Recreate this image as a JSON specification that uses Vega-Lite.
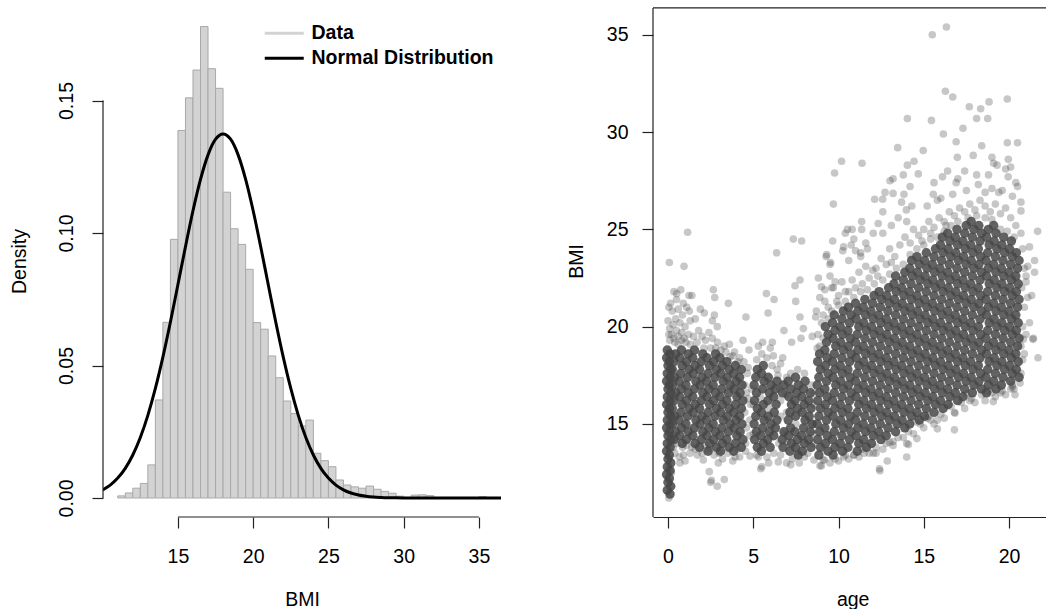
{
"$schema":"https://vega.github.io/schema/vega-lite/v6.json",
"padding":{"left":9,"top":5,"right":0,"bottom":0},
"spacing":65,
"config":{"font":"Liberation Sans","view":{"stroke":null},"axis":{"grid":false,"labelFont":"Liberation Sans","labelFontSize":19.5,"labelColor":"#000","titleFont":"Liberation Sans","titleFontSize":19.5,"titleFontWeight":"normal","titleColor":"#000","tickColor":"#222","tickWidth":1.2,"tickSize":11,"domainColor":"#222","domainWidth":1.2,"labelOverlap":false,"labelFlush":false,"labelBound":false}},
"datasets":{
"hist":[{"lo":11,"hi":11.5,"density":0.0008},{"lo":11.5,"hi":12,"density":0.0019},{"lo":12,"hi":12.5,"density":0.0037},{"lo":12.5,"hi":13,"density":0.0055},{"lo":13,"hi":13.5,"density":0.0125},{"lo":13.5,"hi":14,"density":0.037},{"lo":14,"hi":14.5,"density":0.0663},{"lo":14.5,"hi":15,"density":0.0976},{"lo":15,"hi":15.5,"density":0.1387},{"lo":15.5,"hi":16,"density":0.151},{"lo":16,"hi":16.5,"density":0.1615},{"lo":16.5,"hi":17,"density":0.1779},{"lo":17,"hi":17.5,"density":0.162},{"lo":17.5,"hi":18,"density":0.1546},{"lo":18,"hi":18.5,"density":0.1154},{"lo":18.5,"hi":19,"density":0.1016},{"lo":19,"hi":19.5,"density":0.0957},{"lo":19.5,"hi":20,"density":0.0863},{"lo":20,"hi":20.5,"density":0.0662},{"lo":20.5,"hi":21,"density":0.0637},{"lo":21,"hi":21.5,"density":0.0536},{"lo":21.5,"hi":22,"density":0.0454},{"lo":22,"hi":22.5,"density":0.0366},{"lo":22.5,"hi":23,"density":0.0319},{"lo":23,"hi":23.5,"density":0.0272},{"lo":23.5,"hi":24,"density":0.0294},{"lo":24,"hi":24.5,"density":0.0169},{"lo":24.5,"hi":25,"density":0.0141},{"lo":25,"hi":25.5,"density":0.0118},{"lo":25.5,"hi":26,"density":0.0068},{"lo":26,"hi":26.5,"density":0.0049},{"lo":26.5,"hi":27,"density":0.0042},{"lo":27,"hi":27.5,"density":0.0037},{"lo":27.5,"hi":28,"density":0.0045},{"lo":28,"hi":28.5,"density":0.0033},{"lo":28.5,"hi":29,"density":0.0025},{"lo":29,"hi":29.5,"density":0.0018},{"lo":29.5,"hi":30,"density":0.0007},{"lo":30,"hi":30.5,"density":0.0002},{"lo":30.5,"hi":31,"density":0.0011},{"lo":31,"hi":31.5,"density":0.0012},{"lo":31.5,"hi":32,"density":0.0009},{"lo":35,"hi":35.5,"density":0.0005}],
"curve":[{"bmi":10,"density":0.00308,"series":"Normal Distribution"},{"bmi":10.5,"density":0.00488,"series":"Normal Distribution"},{"bmi":11,"density":0.00751,"series":"Normal Distribution"},{"bmi":11.5,"density":0.0112,"series":"Normal Distribution"},{"bmi":12,"density":0.01623,"series":"Normal Distribution"},{"bmi":12.5,"density":0.02282,"series":"Normal Distribution"},{"bmi":13,"density":0.03118,"series":"Normal Distribution"},{"bmi":13.5,"density":0.04135,"series":"Normal Distribution"},{"bmi":14,"density":0.05317,"series":"Normal Distribution"},{"bmi":14.5,"density":0.06642,"series":"Normal Distribution"},{"bmi":15,"density":0.08056,"series":"Normal Distribution"},{"bmi":15.5,"density":0.09483,"series":"Normal Distribution"},{"bmi":16,"density":0.10838,"series":"Normal Distribution"},{"bmi":16.5,"density":0.12023,"series":"Normal Distribution"},{"bmi":17,"density":0.12949,"series":"Normal Distribution"},{"bmi":17.5,"density":0.13538,"series":"Normal Distribution"},{"bmi":18,"density":0.1374,"series":"Normal Distribution"},{"bmi":18.5,"density":0.13538,"series":"Normal Distribution"},{"bmi":19,"density":0.12949,"series":"Normal Distribution"},{"bmi":19.5,"density":0.12023,"series":"Normal Distribution"},{"bmi":20,"density":0.10838,"series":"Normal Distribution"},{"bmi":20.5,"density":0.09483,"series":"Normal Distribution"},{"bmi":21,"density":0.08056,"series":"Normal Distribution"},{"bmi":21.5,"density":0.06642,"series":"Normal Distribution"},{"bmi":22,"density":0.05317,"series":"Normal Distribution"},{"bmi":22.5,"density":0.04135,"series":"Normal Distribution"},{"bmi":23,"density":0.03118,"series":"Normal Distribution"},{"bmi":23.5,"density":0.02282,"series":"Normal Distribution"},{"bmi":24,"density":0.01623,"series":"Normal Distribution"},{"bmi":24.5,"density":0.0112,"series":"Normal Distribution"},{"bmi":25,"density":0.00751,"series":"Normal Distribution"},{"bmi":25.5,"density":0.00488,"series":"Normal Distribution"},{"bmi":26,"density":0.00308,"series":"Normal Distribution"},{"bmi":26.5,"density":0.00189,"series":"Normal Distribution"},{"bmi":27,"density":0.00112,"series":"Normal Distribution"},{"bmi":27.5,"density":0.00065,"series":"Normal Distribution"},{"bmi":28,"density":0.00036,"series":"Normal Distribution"},{"bmi":28.5,"density":0.0002,"series":"Normal Distribution"},{"bmi":29,"density":0.0001,"series":"Normal Distribution"},{"bmi":29.5,"density":0.00005,"series":"Normal Distribution"},{"bmi":30,"density":0.00002,"series":"Normal Distribution"},{"bmi":31,"density":0,"series":"Normal Distribution"},{"bmi":32,"density":0,"series":"Normal Distribution"},{"bmi":33,"density":0,"series":"Normal Distribution"},{"bmi":34,"density":0,"series":"Normal Distribution"},{"bmi":35,"density":0,"series":"Normal Distribution"},{"bmi":36,"density":0,"series":"Normal Distribution"},{"bmi":36.5,"density":0,"series":"Normal Distribution"}],
"core":[
{"age":0.12,"bmi":11.4},{"age":0.16,"bmi":11.8},{"age":0.08,"bmi":12.2},{"age":0.12,"bmi":12.6},{"age":0.16,"bmi":13},{"age":0.08,"bmi":13.4},{"age":0.12,"bmi":13.8},{"age":0.16,"bmi":14.2},{"age":0.08,"bmi":14.6},{"age":0.12,"bmi":15},{"age":0.16,"bmi":15.4},{"age":0.08,"bmi":15.8},{"age":0.12,"bmi":16.2},{"age":0.16,"bmi":16.6},{"age":0.08,"bmi":17},{"age":0.12,"bmi":17.4},{"age":0.16,"bmi":17.8},{"age":0.08,"bmi":18.2},{"age":0.12,"bmi":18.6},
{"age":-0.04,"bmi":11.6},{"age":0,"bmi":12},{"age":-0.08,"bmi":12.4},{"age":-0.04,"bmi":12.8},{"age":0,"bmi":13.2},{"age":-0.08,"bmi":13.6},{"age":-0.04,"bmi":14},{"age":0,"bmi":14.4},{"age":-0.08,"bmi":14.8},{"age":-0.04,"bmi":15.2},{"age":0,"bmi":15.6},{"age":-0.08,"bmi":16},{"age":-0.04,"bmi":16.4},{"age":0,"bmi":16.8},{"age":-0.08,"bmi":17.2},{"age":-0.04,"bmi":17.6},{"age":0,"bmi":18},{"age":-0.08,"bmi":18.4},{"age":-0.04,"bmi":18.8},
{"age":0.35,"bmi":14.2},{"age":0.44,"bmi":14.6},{"age":0.28,"bmi":15},{"age":0.39,"bmi":15.4},{"age":0.25,"bmi":15.8},{"age":0.35,"bmi":16.2},{"age":0.44,"bmi":16.6},{"age":0.28,"bmi":17},{"age":0.39,"bmi":17.4},{"age":0.25,"bmi":17.8},{"age":0.35,"bmi":18.2},{"age":0.44,"bmi":18.6},
{"age":0.84,"bmi":14},{"age":0.68,"bmi":14.4},{"age":0.79,"bmi":14.8},{"age":0.65,"bmi":15.2},{"age":0.75,"bmi":15.6},{"age":0.84,"bmi":16},{"age":0.68,"bmi":16.4},{"age":0.79,"bmi":16.8},{"age":0.65,"bmi":17.2},{"age":0.75,"bmi":17.6},{"age":0.84,"bmi":18},{"age":0.68,"bmi":18.4},{"age":0.79,"bmi":18.8},
{"age":1.08,"bmi":14.2},{"age":1.19,"bmi":14.6},{"age":1.05,"bmi":15},{"age":1.15,"bmi":15.4},{"age":1.24,"bmi":15.8},{"age":1.08,"bmi":16.2},{"age":1.19,"bmi":16.6},{"age":1.05,"bmi":17},{"age":1.15,"bmi":17.4},{"age":1.24,"bmi":17.8},{"age":1.08,"bmi":18.2},{"age":1.19,"bmi":18.6},
{"age":1.59,"bmi":14},{"age":1.45,"bmi":14.4},{"age":1.55,"bmi":14.8},{"age":1.64,"bmi":15.2},{"age":1.48,"bmi":15.6},{"age":1.59,"bmi":16},{"age":1.45,"bmi":16.4},{"age":1.55,"bmi":16.8},{"age":1.64,"bmi":17.2},{"age":1.48,"bmi":17.6},{"age":1.59,"bmi":18},{"age":1.45,"bmi":18.4},{"age":1.55,"bmi":18.8},
{"age":1.85,"bmi":13.8},{"age":1.95,"bmi":14.2},{"age":2.04,"bmi":14.6},{"age":1.88,"bmi":15},{"age":1.99,"bmi":15.4},{"age":1.85,"bmi":15.8},{"age":1.95,"bmi":16.2},{"age":2.04,"bmi":16.6},{"age":1.88,"bmi":17},{"age":1.99,"bmi":17.4},{"age":1.85,"bmi":17.8},{"age":1.95,"bmi":18.2},{"age":2.04,"bmi":18.6},
{"age":2.35,"bmi":13.6},{"age":2.44,"bmi":14},{"age":2.28,"bmi":14.4},{"age":2.39,"bmi":14.8},{"age":2.25,"bmi":15.2},{"age":2.35,"bmi":15.6},{"age":2.44,"bmi":16},{"age":2.28,"bmi":16.4},{"age":2.39,"bmi":16.8},{"age":2.25,"bmi":17.2},{"age":2.35,"bmi":17.6},{"age":2.44,"bmi":18},{"age":2.28,"bmi":18.4},
{"age":2.84,"bmi":13.8},{"age":2.68,"bmi":14.2},{"age":2.79,"bmi":14.6},{"age":2.65,"bmi":15},{"age":2.75,"bmi":15.4},{"age":2.84,"bmi":15.8},{"age":2.68,"bmi":16.2},{"age":2.79,"bmi":16.6},{"age":2.65,"bmi":17},{"age":2.75,"bmi":17.4},{"age":2.84,"bmi":17.8},{"age":2.68,"bmi":18.2},{"age":2.79,"bmi":18.6},
{"age":3.08,"bmi":13.6},{"age":3.19,"bmi":14},{"age":3.05,"bmi":14.4},{"age":3.15,"bmi":14.8},{"age":3.24,"bmi":15.2},{"age":3.08,"bmi":15.6},{"age":3.19,"bmi":16},{"age":3.05,"bmi":16.4},{"age":3.15,"bmi":16.8},{"age":3.24,"bmi":17.2},{"age":3.08,"bmi":17.6},{"age":3.19,"bmi":18},{"age":3.05,"bmi":18.4},
{"age":3.59,"bmi":13.8},{"age":3.45,"bmi":14.2},{"age":3.55,"bmi":14.6},{"age":3.64,"bmi":15},{"age":3.48,"bmi":15.4},{"age":3.59,"bmi":15.8},{"age":3.45,"bmi":16.2},{"age":3.55,"bmi":16.6},{"age":3.64,"bmi":17},{"age":3.48,"bmi":17.4},{"age":3.59,"bmi":17.8},{"age":3.45,"bmi":18.2},
{"age":3.85,"bmi":13.6},{"age":3.95,"bmi":14},{"age":4.04,"bmi":14.4},{"age":3.88,"bmi":14.8},{"age":3.99,"bmi":15.2},{"age":3.85,"bmi":15.6},{"age":3.95,"bmi":16},{"age":4.04,"bmi":16.4},{"age":3.88,"bmi":16.8},{"age":3.99,"bmi":17.2},{"age":3.85,"bmi":17.6},{"age":3.95,"bmi":18},
{"age":4.3,"bmi":13.8},{"age":4.39,"bmi":14.2},{"age":4.23,"bmi":14.6},{"age":4.34,"bmi":15},{"age":4.2,"bmi":15.4},{"age":4.3,"bmi":15.8},{"age":4.39,"bmi":16.2},{"age":4.23,"bmi":16.6},{"age":4.34,"bmi":17},{"age":4.2,"bmi":17.4},{"age":4.3,"bmi":17.8},
{"age":5.24,"bmi":13.8},{"age":5.08,"bmi":14.2},{"age":5.19,"bmi":14.6},{"age":5.05,"bmi":15},{"age":5.15,"bmi":15.4},{"age":5.24,"bmi":15.8},{"age":5.08,"bmi":16.2},{"age":5.19,"bmi":16.6},{"age":5.05,"bmi":17},{"age":5.15,"bmi":17.4},{"age":5.24,"bmi":17.8},
{"age":5.48,"bmi":13.6},{"age":5.59,"bmi":14},{"age":5.45,"bmi":14.4},{"age":5.55,"bmi":14.8},{"age":5.64,"bmi":15.2},{"age":5.48,"bmi":15.6},{"age":5.59,"bmi":16},{"age":5.55,"bmi":16.8},{"age":5.64,"bmi":17.2},{"age":5.48,"bmi":17.6},{"age":5.59,"bmi":18},
{"age":5.99,"bmi":13.8},{"age":5.85,"bmi":14.2},{"age":5.95,"bmi":14.6},{"age":6.04,"bmi":15},{"age":5.88,"bmi":15.4},{"age":5.85,"bmi":16.2},{"age":5.95,"bmi":16.6},{"age":6.04,"bmi":17},{"age":5.88,"bmi":17.4},
{"age":6.2,"bmi":14.4},{"age":6.3,"bmi":14.8},{"age":6.39,"bmi":15.2},{"age":6.23,"bmi":15.6},{"age":6.34,"bmi":16},{"age":6.2,"bmi":16.4},{"age":6.3,"bmi":16.8},{"age":6.39,"bmi":17.2},
{"age":6.75,"bmi":13.8},{"age":6.7,"bmi":14.2},{"age":6.8,"bmi":14.6},{"age":6.72,"bmi":16.6},{"age":6.78,"bmi":17},
{"age":7.15,"bmi":13.6},{"age":7.24,"bmi":14},{"age":7.08,"bmi":14.4},{"age":7.19,"bmi":14.8},{"age":7.05,"bmi":15.2},{"age":7.15,"bmi":15.6},{"age":7.24,"bmi":16},{"age":7.08,"bmi":16.4},{"age":7.19,"bmi":16.8},{"age":7.05,"bmi":17.2},
{"age":7.64,"bmi":13.4},{"age":7.48,"bmi":13.8},{"age":7.59,"bmi":14.2},{"age":7.45,"bmi":14.6},{"age":7.48,"bmi":15.4},{"age":7.59,"bmi":15.8},{"age":7.45,"bmi":16.2},{"age":7.55,"bmi":16.6},{"age":7.64,"bmi":17},{"age":7.48,"bmi":17.4},
{"age":7.88,"bmi":13.6},{"age":7.99,"bmi":14},{"age":7.85,"bmi":14.4},{"age":7.95,"bmi":14.8},{"age":8.04,"bmi":15.2},{"age":7.88,"bmi":15.6},{"age":7.99,"bmi":16},{"age":7.85,"bmi":16.4},{"age":7.95,"bmi":16.8},{"age":8.04,"bmi":17.2},
{"age":8.39,"bmi":13.8},{"age":8.25,"bmi":14.2},{"age":8.35,"bmi":14.6},{"age":8.44,"bmi":15},{"age":8.28,"bmi":15.4},{"age":8.39,"bmi":15.8},{"age":8.25,"bmi":16.2},{"age":8.35,"bmi":16.6},
{"age":8.85,"bmi":13.4},{"age":8.94,"bmi":13.8},{"age":8.78,"bmi":14.2},{"age":8.89,"bmi":14.6},{"age":8.75,"bmi":15},{"age":8.85,"bmi":15.4},{"age":8.94,"bmi":15.8},{"age":8.78,"bmi":16.2},{"age":8.89,"bmi":16.6},{"age":8.75,"bmi":17},{"age":8.85,"bmi":17.4},{"age":8.94,"bmi":17.8},{"age":8.78,"bmi":18.2},{"age":8.89,"bmi":18.6},
{"age":9.39,"bmi":13.6},{"age":9.23,"bmi":14},{"age":9.34,"bmi":14.4},{"age":9.2,"bmi":14.8},{"age":9.3,"bmi":15.2},{"age":9.39,"bmi":15.6},{"age":9.23,"bmi":16},{"age":9.34,"bmi":16.4},{"age":9.2,"bmi":16.8},{"age":9.3,"bmi":17.2},{"age":9.39,"bmi":17.6},{"age":9.23,"bmi":18},{"age":9.34,"bmi":18.4},{"age":9.2,"bmi":18.8},{"age":9.3,"bmi":19.2},{"age":9.39,"bmi":19.6},{"age":9.23,"bmi":20},
{"age":9.68,"bmi":13.4},{"age":9.79,"bmi":13.8},{"age":9.65,"bmi":14.2},{"age":9.75,"bmi":14.6},{"age":9.84,"bmi":15},{"age":9.68,"bmi":15.4},{"age":9.79,"bmi":15.8},{"age":9.65,"bmi":16.2},{"age":9.75,"bmi":16.6},{"age":9.84,"bmi":17},{"age":9.68,"bmi":17.4},{"age":9.79,"bmi":17.8},{"age":9.65,"bmi":18.2},{"age":9.75,"bmi":18.6},{"age":9.84,"bmi":19},{"age":9.68,"bmi":19.4},{"age":9.79,"bmi":19.8},{"age":9.65,"bmi":20.2},{"age":9.75,"bmi":20.6},
{"age":10.24,"bmi":13.6},{"age":10.1,"bmi":14},{"age":10.2,"bmi":14.4},{"age":10.29,"bmi":14.8},{"age":10.13,"bmi":15.2},{"age":10.24,"bmi":15.6},{"age":10.1,"bmi":16},{"age":10.2,"bmi":16.4},{"age":10.29,"bmi":16.8},{"age":10.13,"bmi":17.2},{"age":10.24,"bmi":17.6},{"age":10.1,"bmi":18},{"age":10.2,"bmi":18.4},{"age":10.29,"bmi":18.8},{"age":10.13,"bmi":19.2},{"age":10.24,"bmi":19.6},{"age":10.1,"bmi":20},{"age":10.2,"bmi":20.4},{"age":10.29,"bmi":20.8},
{"age":10.55,"bmi":13.8},{"age":10.65,"bmi":14.2},{"age":10.74,"bmi":14.6},{"age":10.58,"bmi":15},{"age":10.69,"bmi":15.4},{"age":10.55,"bmi":15.8},{"age":10.65,"bmi":16.2},{"age":10.74,"bmi":16.6},{"age":10.58,"bmi":17},{"age":10.69,"bmi":17.4},{"age":10.55,"bmi":17.8},{"age":10.65,"bmi":18.2},{"age":10.74,"bmi":18.6},{"age":10.58,"bmi":19},{"age":10.69,"bmi":19.4},{"age":10.55,"bmi":19.8},{"age":10.65,"bmi":20.2},{"age":10.74,"bmi":20.6},{"age":10.58,"bmi":21},
{"age":11.1,"bmi":13.6},{"age":11.19,"bmi":14},{"age":11.03,"bmi":14.4},{"age":11.14,"bmi":14.8},{"age":11,"bmi":15.2},{"age":11.1,"bmi":15.6},{"age":11.19,"bmi":16},{"age":11.03,"bmi":16.4},{"age":11.14,"bmi":16.8},{"age":11,"bmi":17.2},{"age":11.1,"bmi":17.6},{"age":11.19,"bmi":18},{"age":11.03,"bmi":18.4},{"age":11.14,"bmi":18.8},{"age":11,"bmi":19.2},{"age":11.1,"bmi":19.6},{"age":11.19,"bmi":20},{"age":11.03,"bmi":20.4},{"age":11.14,"bmi":20.8},{"age":11,"bmi":21.2},
{"age":11.64,"bmi":13.8},{"age":11.48,"bmi":14.2},{"age":11.59,"bmi":14.6},{"age":11.45,"bmi":15},{"age":11.55,"bmi":15.4},{"age":11.64,"bmi":15.8},{"age":11.48,"bmi":16.2},{"age":11.59,"bmi":16.6},{"age":11.45,"bmi":17},{"age":11.55,"bmi":17.4},{"age":11.64,"bmi":17.8},{"age":11.48,"bmi":18.2},{"age":11.59,"bmi":18.6},{"age":11.45,"bmi":19},{"age":11.55,"bmi":19.4},{"age":11.64,"bmi":19.8},{"age":11.48,"bmi":20.2},{"age":11.59,"bmi":20.6},{"age":11.45,"bmi":21},{"age":11.55,"bmi":21.4},
{"age":11.93,"bmi":14},{"age":12.04,"bmi":14.4},{"age":11.9,"bmi":14.8},{"age":12,"bmi":15.2},{"age":12.09,"bmi":15.6},{"age":11.93,"bmi":16},{"age":12.04,"bmi":16.4},{"age":11.9,"bmi":16.8},{"age":12,"bmi":17.2},{"age":12.09,"bmi":17.6},{"age":11.93,"bmi":18},{"age":12.04,"bmi":18.4},{"age":11.9,"bmi":18.8},{"age":12,"bmi":19.2},{"age":12.09,"bmi":19.6},{"age":11.93,"bmi":20},{"age":12.04,"bmi":20.4},{"age":11.9,"bmi":20.8},{"age":12,"bmi":21.2},{"age":12.09,"bmi":21.6},
{"age":12.49,"bmi":14.2},{"age":12.35,"bmi":14.6},{"age":12.45,"bmi":15},{"age":12.54,"bmi":15.4},{"age":12.38,"bmi":15.8},{"age":12.49,"bmi":16.2},{"age":12.35,"bmi":16.6},{"age":12.45,"bmi":17},{"age":12.54,"bmi":17.4},{"age":12.38,"bmi":17.8},{"age":12.49,"bmi":18.2},{"age":12.35,"bmi":18.6},{"age":12.45,"bmi":19},{"age":12.54,"bmi":19.4},{"age":12.38,"bmi":19.8},{"age":12.49,"bmi":20.2},{"age":12.35,"bmi":20.6},{"age":12.45,"bmi":21},{"age":12.54,"bmi":21.4},{"age":12.38,"bmi":21.8},
{"age":12.8,"bmi":14.4},{"age":12.9,"bmi":14.8},{"age":12.99,"bmi":15.2},{"age":12.83,"bmi":15.6},{"age":12.94,"bmi":16},{"age":12.8,"bmi":16.4},{"age":12.9,"bmi":16.8},{"age":12.99,"bmi":17.2},{"age":12.83,"bmi":17.6},{"age":12.94,"bmi":18},{"age":12.8,"bmi":18.4},{"age":12.9,"bmi":18.8},{"age":12.99,"bmi":19.2},{"age":12.83,"bmi":19.6},{"age":12.94,"bmi":20},{"age":12.8,"bmi":20.4},{"age":12.9,"bmi":20.8},{"age":12.99,"bmi":21.2},{"age":12.83,"bmi":21.6},{"age":12.94,"bmi":22},
{"age":13.35,"bmi":14.6},{"age":13.44,"bmi":15},{"age":13.28,"bmi":15.4},{"age":13.39,"bmi":15.8},{"age":13.25,"bmi":16.2},{"age":13.35,"bmi":16.6},{"age":13.44,"bmi":17},{"age":13.28,"bmi":17.4},{"age":13.39,"bmi":17.8},{"age":13.25,"bmi":18.2},{"age":13.35,"bmi":18.6},{"age":13.44,"bmi":19},{"age":13.28,"bmi":19.4},{"age":13.39,"bmi":19.8},{"age":13.25,"bmi":20.2},{"age":13.35,"bmi":20.6},{"age":13.44,"bmi":21},{"age":13.28,"bmi":21.4},{"age":13.39,"bmi":21.8},{"age":13.25,"bmi":22.2},{"age":13.35,"bmi":22.6},
{"age":13.89,"bmi":14.8},{"age":13.73,"bmi":15.2},{"age":13.84,"bmi":15.6},{"age":13.7,"bmi":16},{"age":13.8,"bmi":16.4},{"age":13.89,"bmi":16.8},{"age":13.73,"bmi":17.2},{"age":13.84,"bmi":17.6},{"age":13.7,"bmi":18},{"age":13.8,"bmi":18.4},{"age":13.89,"bmi":18.8},{"age":13.73,"bmi":19.2},{"age":13.84,"bmi":19.6},{"age":13.7,"bmi":20},{"age":13.8,"bmi":20.4},{"age":13.89,"bmi":20.8},{"age":13.73,"bmi":21.2},{"age":13.84,"bmi":21.6},{"age":13.7,"bmi":22},{"age":13.8,"bmi":22.4},{"age":13.89,"bmi":22.8},
{"age":14.18,"bmi":15},{"age":14.29,"bmi":15.4},{"age":14.15,"bmi":15.8},{"age":14.25,"bmi":16.2},{"age":14.34,"bmi":16.6},{"age":14.18,"bmi":17},{"age":14.29,"bmi":17.4},{"age":14.15,"bmi":17.8},{"age":14.25,"bmi":18.2},{"age":14.34,"bmi":18.6},{"age":14.18,"bmi":19},{"age":14.29,"bmi":19.4},{"age":14.15,"bmi":19.8},{"age":14.25,"bmi":20.2},{"age":14.34,"bmi":20.6},{"age":14.18,"bmi":21},{"age":14.29,"bmi":21.4},{"age":14.15,"bmi":21.8},{"age":14.25,"bmi":22.2},{"age":14.34,"bmi":22.6},{"age":14.18,"bmi":23},{"age":14.29,"bmi":23.4},
{"age":14.74,"bmi":15.2},{"age":14.6,"bmi":15.6},{"age":14.7,"bmi":16},{"age":14.79,"bmi":16.4},{"age":14.63,"bmi":16.8},{"age":14.74,"bmi":17.2},{"age":14.6,"bmi":17.6},{"age":14.7,"bmi":18},{"age":14.79,"bmi":18.4},{"age":14.63,"bmi":18.8},{"age":14.74,"bmi":19.2},{"age":14.6,"bmi":19.6},{"age":14.7,"bmi":20},{"age":14.79,"bmi":20.4},{"age":14.63,"bmi":20.8},{"age":14.74,"bmi":21.2},{"age":14.6,"bmi":21.6},{"age":14.7,"bmi":22},{"age":14.79,"bmi":22.4},{"age":14.63,"bmi":22.8},{"age":14.74,"bmi":23.2},{"age":14.6,"bmi":23.6},
{"age":15.05,"bmi":15.4},{"age":15.15,"bmi":15.8},{"age":15.24,"bmi":16.2},{"age":15.08,"bmi":16.6},{"age":15.19,"bmi":17},{"age":15.05,"bmi":17.4},{"age":15.15,"bmi":17.8},{"age":15.24,"bmi":18.2},{"age":15.08,"bmi":18.6},{"age":15.19,"bmi":19},{"age":15.05,"bmi":19.4},{"age":15.15,"bmi":19.8},{"age":15.24,"bmi":20.2},{"age":15.08,"bmi":20.6},{"age":15.19,"bmi":21},{"age":15.05,"bmi":21.4},{"age":15.15,"bmi":21.8},{"age":15.24,"bmi":22.2},{"age":15.08,"bmi":22.6},{"age":15.19,"bmi":23},{"age":15.05,"bmi":23.4},{"age":15.15,"bmi":23.8},
{"age":15.6,"bmi":15.6},{"age":15.69,"bmi":16},{"age":15.53,"bmi":16.4},{"age":15.64,"bmi":16.8},{"age":15.5,"bmi":17.2},{"age":15.6,"bmi":17.6},{"age":15.69,"bmi":18},{"age":15.53,"bmi":18.4},{"age":15.64,"bmi":18.8},{"age":15.5,"bmi":19.2},{"age":15.6,"bmi":19.6},{"age":15.69,"bmi":20},{"age":15.53,"bmi":20.4},{"age":15.64,"bmi":20.8},{"age":15.5,"bmi":21.2},{"age":15.6,"bmi":21.6},{"age":15.69,"bmi":22},{"age":15.53,"bmi":22.4},{"age":15.64,"bmi":22.8},{"age":15.5,"bmi":23.2},{"age":15.6,"bmi":23.6},{"age":15.69,"bmi":24},
{"age":16.14,"bmi":15.8},{"age":15.98,"bmi":16.2},{"age":16.09,"bmi":16.6},{"age":15.95,"bmi":17},{"age":16.05,"bmi":17.4},{"age":16.14,"bmi":17.8},{"age":15.98,"bmi":18.2},{"age":16.09,"bmi":18.6},{"age":15.95,"bmi":19},{"age":16.05,"bmi":19.4},{"age":16.14,"bmi":19.8},{"age":15.98,"bmi":20.2},{"age":16.09,"bmi":20.6},{"age":15.95,"bmi":21},{"age":16.05,"bmi":21.4},{"age":16.14,"bmi":21.8},{"age":15.98,"bmi":22.2},{"age":16.09,"bmi":22.6},{"age":15.95,"bmi":23},{"age":16.05,"bmi":23.4},{"age":16.14,"bmi":23.8},{"age":15.98,"bmi":24.2},{"age":16.09,"bmi":24.6},
{"age":16.43,"bmi":16},{"age":16.54,"bmi":16.4},{"age":16.4,"bmi":16.8},{"age":16.5,"bmi":17.2},{"age":16.59,"bmi":17.6},{"age":16.43,"bmi":18},{"age":16.54,"bmi":18.4},{"age":16.4,"bmi":18.8},{"age":16.5,"bmi":19.2},{"age":16.59,"bmi":19.6},{"age":16.43,"bmi":20},{"age":16.54,"bmi":20.4},{"age":16.4,"bmi":20.8},{"age":16.5,"bmi":21.2},{"age":16.59,"bmi":21.6},{"age":16.43,"bmi":22},{"age":16.54,"bmi":22.4},{"age":16.4,"bmi":22.8},{"age":16.5,"bmi":23.2},{"age":16.59,"bmi":23.6},{"age":16.43,"bmi":24},{"age":16.54,"bmi":24.4},{"age":16.4,"bmi":24.8},
{"age":16.99,"bmi":16.2},{"age":16.85,"bmi":16.6},{"age":16.95,"bmi":17},{"age":17.04,"bmi":17.4},{"age":16.88,"bmi":17.8},{"age":16.99,"bmi":18.2},{"age":16.85,"bmi":18.6},{"age":16.95,"bmi":19},{"age":17.04,"bmi":19.4},{"age":16.88,"bmi":19.8},{"age":16.99,"bmi":20.2},{"age":16.85,"bmi":20.6},{"age":16.95,"bmi":21},{"age":17.04,"bmi":21.4},{"age":16.88,"bmi":21.8},{"age":16.99,"bmi":22.2},{"age":16.85,"bmi":22.6},{"age":16.95,"bmi":23},{"age":17.04,"bmi":23.4},{"age":16.88,"bmi":23.8},{"age":16.99,"bmi":24.2},{"age":16.85,"bmi":24.6},{"age":16.95,"bmi":25},
{"age":17.3,"bmi":16.4},{"age":17.4,"bmi":16.8},{"age":17.49,"bmi":17.2},{"age":17.33,"bmi":17.6},{"age":17.44,"bmi":18},{"age":17.3,"bmi":18.4},{"age":17.4,"bmi":18.8},{"age":17.49,"bmi":19.2},{"age":17.33,"bmi":19.6},{"age":17.44,"bmi":20},{"age":17.3,"bmi":20.4},{"age":17.4,"bmi":20.8},{"age":17.49,"bmi":21.2},{"age":17.33,"bmi":21.6},{"age":17.44,"bmi":22},{"age":17.3,"bmi":22.4},{"age":17.4,"bmi":22.8},{"age":17.49,"bmi":23.2},{"age":17.33,"bmi":23.6},{"age":17.44,"bmi":24},{"age":17.3,"bmi":24.4},{"age":17.4,"bmi":24.8},{"age":17.49,"bmi":25.2},
{"age":17.85,"bmi":16.6},{"age":17.94,"bmi":17},{"age":17.78,"bmi":17.4},{"age":17.89,"bmi":17.8},{"age":17.75,"bmi":18.2},{"age":17.85,"bmi":18.6},{"age":17.94,"bmi":19},{"age":17.78,"bmi":19.4},{"age":17.89,"bmi":19.8},{"age":17.75,"bmi":20.2},{"age":17.85,"bmi":20.6},{"age":17.94,"bmi":21},{"age":17.78,"bmi":21.4},{"age":17.89,"bmi":21.8},{"age":17.75,"bmi":22.2},{"age":17.85,"bmi":22.6},{"age":17.94,"bmi":23},{"age":17.78,"bmi":23.4},{"age":17.89,"bmi":23.8},{"age":17.75,"bmi":24.2},{"age":17.85,"bmi":24.6},{"age":17.94,"bmi":25},{"age":17.78,"bmi":25.4},
{"age":18.39,"bmi":16.8},{"age":18.23,"bmi":17.2},{"age":18.34,"bmi":17.6},{"age":18.2,"bmi":18},{"age":18.3,"bmi":18.4},{"age":18.39,"bmi":18.8},{"age":18.23,"bmi":19.2},{"age":18.34,"bmi":19.6},{"age":18.2,"bmi":20},{"age":18.3,"bmi":20.4},{"age":18.39,"bmi":20.8},{"age":18.23,"bmi":21.2},{"age":18.34,"bmi":21.6},{"age":18.2,"bmi":22},{"age":18.3,"bmi":22.4},{"age":18.39,"bmi":22.8},{"age":18.23,"bmi":23.2},{"age":18.34,"bmi":23.6},{"age":18.2,"bmi":24},{"age":18.3,"bmi":24.4},{"age":18.39,"bmi":24.8},{"age":18.23,"bmi":25.2},
{"age":18.68,"bmi":16.6},{"age":18.79,"bmi":17},{"age":18.65,"bmi":17.4},{"age":18.75,"bmi":17.8},{"age":18.84,"bmi":18.2},{"age":18.68,"bmi":18.6},{"age":18.79,"bmi":19},{"age":18.65,"bmi":19.4},{"age":18.75,"bmi":19.8},{"age":18.84,"bmi":20.2},{"age":18.68,"bmi":20.6},{"age":18.79,"bmi":21},{"age":18.65,"bmi":21.4},{"age":18.75,"bmi":21.8},{"age":18.84,"bmi":22.2},{"age":18.68,"bmi":22.6},{"age":18.79,"bmi":23},{"age":18.65,"bmi":23.4},{"age":18.75,"bmi":23.8},{"age":18.84,"bmi":24.2},{"age":18.68,"bmi":24.6},{"age":18.79,"bmi":25},
{"age":19.24,"bmi":16.8},{"age":19.1,"bmi":17.2},{"age":19.2,"bmi":17.6},{"age":19.29,"bmi":18},{"age":19.13,"bmi":18.4},{"age":19.24,"bmi":18.8},{"age":19.1,"bmi":19.2},{"age":19.2,"bmi":19.6},{"age":19.29,"bmi":20},{"age":19.13,"bmi":20.4},{"age":19.24,"bmi":20.8},{"age":19.1,"bmi":21.2},{"age":19.2,"bmi":21.6},{"age":19.29,"bmi":22},{"age":19.13,"bmi":22.4},{"age":19.24,"bmi":22.8},{"age":19.1,"bmi":23.2},{"age":19.2,"bmi":23.6},{"age":19.29,"bmi":24},{"age":19.13,"bmi":24.4},{"age":19.24,"bmi":24.8},{"age":19.1,"bmi":25.2},
{"age":19.55,"bmi":17},{"age":19.65,"bmi":17.4},{"age":19.74,"bmi":17.8},{"age":19.58,"bmi":18.2},{"age":19.69,"bmi":18.6},{"age":19.55,"bmi":19},{"age":19.65,"bmi":19.4},{"age":19.74,"bmi":19.8},{"age":19.58,"bmi":20.2},{"age":19.69,"bmi":20.6},{"age":19.55,"bmi":21},{"age":19.65,"bmi":21.4},{"age":19.74,"bmi":21.8},{"age":19.58,"bmi":22.2},{"age":19.69,"bmi":22.6},{"age":19.55,"bmi":23},{"age":19.65,"bmi":23.4},{"age":19.74,"bmi":23.8},{"age":19.58,"bmi":24.2},{"age":19.69,"bmi":24.6},
{"age":20.1,"bmi":17.2},{"age":20.19,"bmi":17.6},{"age":20.03,"bmi":18},{"age":20.14,"bmi":18.4},{"age":20,"bmi":18.8},{"age":20.1,"bmi":19.2},{"age":20.19,"bmi":19.6},{"age":20.03,"bmi":20},{"age":20.14,"bmi":20.4},{"age":20,"bmi":20.8},{"age":20.1,"bmi":21.2},{"age":20.19,"bmi":21.6},{"age":20.03,"bmi":22},{"age":20.14,"bmi":22.4},{"age":20,"bmi":22.8},{"age":20.1,"bmi":23.2},{"age":20.19,"bmi":23.6},{"age":20.03,"bmi":24},{"age":20.14,"bmi":24.4},
{"age":20.59,"bmi":17.4},{"age":20.43,"bmi":17.8},{"age":20.54,"bmi":18.2},{"age":20.4,"bmi":18.6},{"age":20.5,"bmi":19},{"age":20.59,"bmi":19.4},{"age":20.43,"bmi":19.8},{"age":20.54,"bmi":20.2},{"age":20.4,"bmi":20.6},{"age":20.5,"bmi":21},{"age":20.59,"bmi":21.4},{"age":20.43,"bmi":21.8},{"age":20.54,"bmi":22.2},{"age":20.4,"bmi":22.6},{"age":20.5,"bmi":23},{"age":20.59,"bmi":23.4},{"age":20.43,"bmi":23.8}
],
"sparse":[
{"age":0.1,"bmi":19.3},{"age":0.2,"bmi":19.6},{"age":0.35,"bmi":19.4},{"age":0.5,"bmi":19.8},{"age":0.3,"bmi":20.1},{"age":0.6,"bmi":19.5},{"age":0.8,"bmi":19.7},{"age":0.45,"bmi":20.4},{"age":0.7,"bmi":20.2},{"age":0.95,"bmi":19.4},{"age":1,"bmi":20},{"age":1.2,"bmi":19.6},{"age":0.25,"bmi":20.8},{"age":0.6,"bmi":20.9},{"age":0.85,"bmi":20.6},{"age":1.3,"bmi":20.3},{"age":1.5,"bmi":19.5},{"age":0.15,"bmi":21.2},{"age":0.5,"bmi":21.4},{"age":0.9,"bmi":21.2},{"age":1.1,"bmi":21},{"age":1.6,"bmi":20.4},{"age":1.8,"bmi":19.8},{"age":2,"bmi":19.5},{"age":2.2,"bmi":19.3},{"age":1.4,"bmi":21.6},{"age":2.4,"bmi":19.7},{"age":0.35,"bmi":21.8},{"age":0.75,"bmi":21.9},{"age":1.25,"bmi":20.8},{"age":2.6,"bmi":19.4},{"age":2.9,"bmi":19.2},{"age":3.3,"bmi":19},{"age":3.6,"bmi":19.1},{"age":3.9,"bmi":18.7},{"age":4.2,"bmi":18.4},{"age":1.9,"bmi":20.9},{"age":2.6,"bmi":20.3},{"age":0.05,"bmi":19.6},{"age":0,"bmi":20.3},{"age":0.05,"bmi":21},{"age":0.1,"bmi":19.9},{"age":0.4,"bmi":19.2},{"age":0.8,"bmi":19.3},{"age":1.05,"bmi":19.2},
{"age":0.08,"bmi":23.3},{"age":0.94,"bmi":23.1},{"age":1.15,"bmi":24.85},{"age":0.51,"bmi":21.7},{"age":1.23,"bmi":21.6},{"age":2.66,"bmi":21.9},{"age":2.74,"bmi":21.5},{"age":3.54,"bmi":21.2},{"age":2.89,"bmi":20},{"age":2.72,"bmi":20.6},{"age":2.13,"bmi":20.7},{"age":4.57,"bmi":20.5},{"age":5.77,"bmi":21.7},{"age":6.22,"bmi":21.4},{"age":5.87,"bmi":20.7},{"age":6.37,"bmi":23.8},{"age":7.35,"bmi":24.5},{"age":7.84,"bmi":24.4},{"age":6.8,"bmi":19.8},{"age":7.45,"bmi":22.1},{"age":7.74,"bmi":22.4},{"age":7.49,"bmi":21.3},{"age":7.74,"bmi":20.5},{"age":7.25,"bmi":19.2},{"age":7.94,"bmi":19.9},{"age":7.8,"bmi":19.4},{"age":5.55,"bmi":19.2},{"age":6.12,"bmi":19.2},{"age":6.18,"bmi":18.5},{"age":6.73,"bmi":18.4},{"age":6.96,"bmi":17.4},{"age":8.82,"bmi":22.5},{"age":9,"bmi":22.05},{"age":9.7,"bmi":26.3},{"age":9.66,"bmi":24.4},{"age":9.31,"bmi":23.7},{"age":9.5,"bmi":23.2},{"age":9.8,"bmi":22.3},{"age":8.9,"bmi":21.5},{"age":9.2,"bmi":21.3},{"age":8.66,"bmi":20.5},{"age":8.46,"bmi":19.5},{"age":9.77,"bmi":27.9},{"age":10.18,"bmi":28.5},{"age":11.38,"bmi":28.4},{"age":9.27,"bmi":23.6},{"age":9.54,"bmi":23.3},{"age":9.6,"bmi":22},{"age":3.64,"bmi":18.45},
{"age":0.86,"bmi":13.8},{"age":1.39,"bmi":13.8},{"age":0.66,"bmi":13.3},{"age":0.7,"bmi":13},{"age":1.72,"bmi":13.4},{"age":2.07,"bmi":13.15},{"age":2.4,"bmi":13.7},{"age":2.42,"bmi":12.55},{"age":2.5,"bmi":12},{"age":2.89,"bmi":11.8},{"age":3.3,"bmi":12.15},{"age":2.55,"bmi":12.1},{"age":2.95,"bmi":13},{"age":3,"bmi":13.5},{"age":3.93,"bmi":13.3},{"age":4.1,"bmi":13.7},{"age":4.81,"bmi":13.35},{"age":5.2,"bmi":13.4},{"age":5.44,"bmi":12.7},{"age":5.5,"bmi":12.8},{"age":6.47,"bmi":13.05},{"age":6.96,"bmi":13},{"age":7.7,"bmi":13},{"age":8.56,"bmi":13.15},{"age":9.1,"bmi":13.15},{"age":9,"bmi":12.85},{"age":0.05,"bmi":11.2},{"age":0.3,"bmi":13.8},{"age":0.5,"bmi":14},{"age":1.1,"bmi":13.9},{"age":0.2,"bmi":12.5},
{"age":4.55,"bmi":14},{"age":4.6,"bmi":14.8},{"age":4.5,"bmi":15.6},{"age":4.7,"bmi":16.3},{"age":4.5,"bmi":17},{"age":4.65,"bmi":17.6},{"age":4.45,"bmi":18.2},{"age":4.8,"bmi":15.2},{"age":4.9,"bmi":16.8},{"age":4.55,"bmi":13.6},{"age":4.8,"bmi":14.4},{"age":4.75,"bmi":18.8},{"age":4.4,"bmi":19.3},{"age":4.7,"bmi":17.9},{"age":4.85,"bmi":16},{"age":4.6,"bmi":16.6},
{"age":5.2,"bmi":18.3},{"age":5.5,"bmi":18.6},{"age":5.8,"bmi":18.4},{"age":6.1,"bmi":18},{"age":5.3,"bmi":19},{"age":6,"bmi":18.9},{"age":6.4,"bmi":17.8},{"age":6.6,"bmi":18.1},{"age":6.6,"bmi":15.4},{"age":6.95,"bmi":15.6},{"age":6.6,"bmi":16.2},{"age":6.9,"bmi":16.5},{"age":6.8,"bmi":14.5},{"age":6.5,"bmi":14},{"age":6.55,"bmi":16.8},{"age":7,"bmi":14.1},{"age":5.3,"bmi":13.3},{"age":5.8,"bmi":13.3},{"age":6.2,"bmi":13.5},{"age":7.3,"bmi":13.2},{"age":7.6,"bmi":13.4},{"age":8,"bmi":13.3},{"age":8.2,"bmi":13.5},{"age":6.6,"bmi":13.4},{"age":5.9,"bmi":13},{"age":7.2,"bmi":12.9},{"age":7.2,"bmi":17.6},{"age":7.6,"bmi":17.8},{"age":8,"bmi":17.6},{"age":8.4,"bmi":17},{"age":8.55,"bmi":16.6},{"age":8.5,"bmi":14},{"age":8.5,"bmi":15},{"age":8.55,"bmi":16},{"age":8.45,"bmi":14.5},{"age":5.4,"bmi":16.4},{"age":5.9,"bmi":15.8},{"age":7.5,"bmi":15},{"age":6.45,"bmi":17.5},{"age":5,"bmi":14.5},{"age":5,"bmi":16},
{"age":8.9,"bmi":19},{"age":8.8,"bmi":19.6},{"age":9,"bmi":20.2},{"age":8.7,"bmi":20.8},{"age":9.1,"bmi":19.4},{"age":8.75,"bmi":18.9},
{"age":9.1,"bmi":20.6},{"age":9.4,"bmi":21},{"age":9.6,"bmi":20.8},{"age":9.9,"bmi":21.3},{"age":9.2,"bmi":21.9},{"age":9.7,"bmi":22},{"age":10,"bmi":21.6},{"age":10.2,"bmi":22.3},{"age":10.4,"bmi":21.8},{"age":9.5,"bmi":22.6},{"age":10.6,"bmi":21.8},{"age":10.8,"bmi":22.4},{"age":11,"bmi":22},{"age":11.2,"bmi":22.8},{"age":11.4,"bmi":22.2},{"age":11.6,"bmi":23.1},{"age":11.8,"bmi":22.5},{"age":12,"bmi":22.9},{"age":10.6,"bmi":23.4},{"age":11.3,"bmi":23.8},{"age":10.9,"bmi":24.5},{"age":11.7,"bmi":24},{"age":10.4,"bmi":24.8},{"age":10.8,"bmi":25},
{"age":10.25,"bmi":23.9},{"age":10.52,"bmi":25},{"age":10.3,"bmi":24.1},{"age":10.75,"bmi":24.2},{"age":11.36,"bmi":25.4},{"age":11.36,"bmi":25},{"age":11,"bmi":23.9},{"age":11.6,"bmi":24.3},{"age":11.3,"bmi":23.6},{"age":12.33,"bmi":25.3},{"age":12.6,"bmi":24.8},{"age":12.04,"bmi":24.8},{"age":12.12,"bmi":26.55},{"age":12.59,"bmi":26.55},{"age":12.73,"bmi":26.9},{"age":13.2,"bmi":26.85},{"age":13.47,"bmi":29.2},{"age":13.02,"bmi":27.5},{"age":13.2,"bmi":27.6},{"age":13.8,"bmi":27.8},{"age":14.04,"bmi":28.3},{"age":14.43,"bmi":28.5},{"age":14.68,"bmi":27.85},{"age":14.2,"bmi":27.2},{"age":13.84,"bmi":26.8},{"age":13.98,"bmi":26},{"age":14.04,"bmi":30.7},{"age":15.45,"bmi":30.6},{"age":15.5,"bmi":35},{"age":16.33,"bmi":35.4},{"age":16.27,"bmi":32.1},{"age":16.7,"bmi":31.8},{"age":16.15,"bmi":29.9},{"age":17.3,"bmi":30.2},{"age":17.67,"bmi":31.3},{"age":18.34,"bmi":31.2},{"age":18.83,"bmi":31.55},{"age":19.9,"bmi":31.7},{"age":18.1,"bmi":30.7},{"age":18.75,"bmi":30.7},{"age":19.9,"bmi":29.45},{"age":20.5,"bmi":29.45},{"age":18.4,"bmi":29.3},{"age":14.97,"bmi":29.05},{"age":16.9,"bmi":29.5},{"age":16.97,"bmi":28.7},{"age":17.9,"bmi":28.8},{"age":19,"bmi":28.7},{"age":19.1,"bmi":28.4},{"age":19.96,"bmi":28.6},{"age":20.1,"bmi":28.2},{"age":16.1,"bmi":27.7},{"age":16.4,"bmi":28},{"age":17.4,"bmi":28},{"age":18.1,"bmi":27.8},{"age":19.3,"bmi":28.3},{"age":19.8,"bmi":28.1},{"age":19.95,"bmi":27.7},{"age":20.4,"bmi":27.4},{"age":20.5,"bmi":27.2},{"age":16.9,"bmi":27.4},{"age":15.56,"bmi":26.8},{"age":15.8,"bmi":26.5},{"age":18.6,"bmi":26.9},{"age":19.4,"bmi":26.9},{"age":20.7,"bmi":26.4},{"age":20.7,"bmi":25.95},{"age":21.68,"bmi":24.9},{"age":21.5,"bmi":23.4},{"age":21.2,"bmi":24.1},{"age":21.1,"bmi":23.1},
{"age":21.7,"bmi":18.4},{"age":20.8,"bmi":18.3},{"age":21.33,"bmi":21.6},{"age":21.43,"bmi":19.4},{"age":21.2,"bmi":20.2},{"age":21.5,"bmi":22.8},{"age":21,"bmi":22.3},{"age":20.65,"bmi":17.1},{"age":20.1,"bmi":16.8},{"age":20.35,"bmi":16.5},{"age":19.5,"bmi":16.6},{"age":19.08,"bmi":16.15},{"age":18.8,"bmi":16.7},{"age":17.7,"bmi":16.2},{"age":17.5,"bmi":16.55},{"age":16.83,"bmi":15.55},{"age":16.8,"bmi":14.7},{"age":15.8,"bmi":14.75},{"age":15.8,"bmi":15.2},{"age":15.2,"bmi":15.3},{"age":14.6,"bmi":15.1},{"age":14.6,"bmi":14.25},{"age":14,"bmi":14},{"age":14,"bmi":13.3},{"age":13.2,"bmi":14.1},{"age":12.86,"bmi":13.1},{"age":12.4,"bmi":12.7},{"age":12.2,"bmi":13.5},{"age":11.4,"bmi":13.7},{"age":10.9,"bmi":13.4},{"age":10.4,"bmi":13.4},{"age":12.43,"bmi":12.6},{"age":12.04,"bmi":13.5},{"age":15.27,"bmi":15.4},{"age":20.2,"bmi":16.9},{"age":20.84,"bmi":19.35},{"age":21.4,"bmi":19.35},{"age":8.91,"bmi":12.85},{"age":9.17,"bmi":13.15},{"age":13,"bmi":14.05},{"age":14.1,"bmi":13.95},
{"age":12.2,"bmi":23},{"age":12.5,"bmi":23.5},{"age":12.8,"bmi":23.2},{"age":13,"bmi":24},{"age":13.3,"bmi":23.6},{"age":13.6,"bmi":24.2},{"age":13.9,"bmi":24.6},{"age":14.2,"bmi":24.3},{"age":13.1,"bmi":25.2},{"age":13.5,"bmi":25.6},{"age":14,"bmi":25.4},{"age":12.6,"bmi":25.9},{"age":14.4,"bmi":25},{"age":14.7,"bmi":24.7},{"age":14.3,"bmi":26.2},{"age":13.7,"bmi":26.4},{"age":12.3,"bmi":22.6},{"age":13.1,"bmi":23.3},
{"age":15,"bmi":25},{"age":15.3,"bmi":25.4},{"age":15.6,"bmi":25.1},{"age":15.9,"bmi":25.6},{"age":16.2,"bmi":25.4},{"age":16.5,"bmi":25.9},{"age":16.8,"bmi":25.7},{"age":17.1,"bmi":26.1},{"age":17.4,"bmi":25.9},{"age":17.7,"bmi":26.3},{"age":18,"bmi":26},{"age":18.3,"bmi":26.5},{"age":18.6,"bmi":26.2},{"age":18.9,"bmi":25.9},{"age":19.2,"bmi":26.3},{"age":19.5,"bmi":25.8},{"age":19.8,"bmi":26.1},{"age":20.1,"bmi":25.6},{"age":20.4,"bmi":25.2},{"age":20.7,"bmi":24.8},{"age":15.2,"bmi":26.2},{"age":16,"bmi":26.6},{"age":16.7,"bmi":26.8},{"age":17.5,"bmi":27},{"age":18.2,"bmi":27.3},{"age":19,"bmi":27.1},{"age":19.6,"bmi":27},{"age":20.2,"bmi":26.7},{"age":15.6,"bmi":27.4},{"age":17,"bmi":27.6},{"age":18.8,"bmi":27.8},{"age":14.9,"bmi":24.4},{"age":15.4,"bmi":24.8},{"age":16.3,"bmi":25.2},
{"age":20.7,"bmi":19},{"age":20.8,"bmi":20},{"age":20.9,"bmi":21},{"age":20.75,"bmi":22},{"age":20.9,"bmi":23},{"age":20.8,"bmi":24},{"age":21,"bmi":19.6},{"age":21.1,"bmi":21.5},{"age":20.7,"bmi":17.6},{"age":21,"bmi":22.6},{"age":20.9,"bmi":18.6},
{"age":9.5,"bmi":13},{"age":10,"bmi":13.1},{"age":10.6,"bmi":13.2},{"age":11.2,"bmi":13.3},{"age":11.8,"bmi":13.5},{"age":12.6,"bmi":13.7},{"age":13.2,"bmi":13.9},{"age":13.8,"bmi":14.3},{"age":14.4,"bmi":14.5},{"age":15,"bmi":14.8},{"age":15.6,"bmi":15},{"age":16.2,"bmi":15.3},{"age":16.8,"bmi":15.6},{"age":17.4,"bmi":15.8},{"age":18,"bmi":16.1},{"age":18.6,"bmi":16.2},{"age":19.2,"bmi":16.4},{"age":19.8,"bmi":16.5},{"age":20.3,"bmi":16.8},
{"age":0.4,"bmi":13.5},{"age":0.9,"bmi":13.4},{"age":1.3,"bmi":13.5},{"age":1.6,"bmi":13.7},{"age":2,"bmi":13.5},{"age":2.2,"bmi":13.9},{"age":2.7,"bmi":13.4},{"age":3.2,"bmi":13.2},{"age":3.5,"bmi":13.5},{"age":3.8,"bmi":13.1},{"age":4.2,"bmi":13.3},{"age":1,"bmi":13.1},
{"age":0.6,"bmi":19.1},{"age":1.3,"bmi":19.1},{"age":1.7,"bmi":19.2},{"age":2.1,"bmi":18.9},{"age":2.5,"bmi":18.9},{"age":2.8,"bmi":18.9},{"age":3.1,"bmi":18.8},{"age":3.4,"bmi":18.7},{"age":3.8,"bmi":18.5},{"age":4.1,"bmi":18.2},
{"age":9.4,"bmi":20.4},{"age":10,"bmi":21.1},{"age":10.4,"bmi":21.3},{"age":10.9,"bmi":21.5},{"age":11.3,"bmi":21.8},{"age":11.7,"bmi":21.9},{"age":12.1,"bmi":22.2},{"age":12.6,"bmi":22.4},{"age":13,"bmi":22.7},{"age":13.4,"bmi":23},{"age":13.8,"bmi":23.2},{"age":14.2,"bmi":23.7},{"age":14.6,"bmi":24},{"age":15,"bmi":24.2},{"age":15.4,"bmi":24.5},{"age":15.8,"bmi":24.6},{"age":16.2,"bmi":24.9},{"age":16.6,"bmi":25.2},{"age":17,"bmi":25.4},{"age":17.6,"bmi":25.6},{"age":18.1,"bmi":25.7},{"age":18.6,"bmi":25.6},{"age":19,"bmi":25.5},{"age":19.5,"bmi":25},{"age":19.9,"bmi":24.9},{"age":20.3,"bmi":24.6},
{"age":9.8,"bmi":13.2},{"age":10.3,"bmi":13.3},{"age":10.9,"bmi":13.4},{"age":11.5,"bmi":13.5},{"age":12.2,"bmi":13.8},{"age":12.8,"bmi":14},{"age":13.5,"bmi":14.3},{"age":14.1,"bmi":14.6},{"age":14.8,"bmi":15},{"age":15.4,"bmi":15.2},{"age":16,"bmi":15.5},{"age":16.6,"bmi":15.9},{"age":17.2,"bmi":16.1},{"age":17.8,"bmi":16.3},{"age":18.4,"bmi":16.5},{"age":19,"bmi":16.6},{"age":19.6,"bmi":16.7},{"age":20.2,"bmi":17}
]},
"hconcat":[
{"width":398,"height":512,
"layer":[
{"data":{"name":"hist"},"mark":{"type":"rect","fill":"#d3d3d3","stroke":"#a9a9a9","strokeWidth":1},
"encoding":{
"x":{"field":"lo","type":"quantitative","scale":{"domain":[10.02,36.47],"nice":false,"zero":false},"axis":{"values":[15,20,25,30,35],"domain":false,"title":"BMI","labelBaseline":"alphabetic","labelPadding":34,"titleY":88,"titleBaseline":"alphabetic"}},
"x2":{"field":"hi"},
"y":{"field":"density","type":"quantitative","scale":{"domain":[-0.00717,0.18604],"nice":false,"zero":false},"axis":{"values":[0,0.05,0.1,0.15],"format":".2f","domain":false,"title":"Density","labelAngle":270,"labelAlign":"center","labelBaseline":"alphabetic","labelPadding":19.5,"titleAngle":270,"titleX":-78,"titleBaseline":"alphabetic"}},
"y2":{"datum":0}}},
{"data":{"name":"curve"},"mark":{"type":"line","strokeWidth":3,"interpolate":"monotone","clip":true},
"encoding":{"x":{"field":"bmi","type":"quantitative","title":"BMI"},"y":{"field":"density","type":"quantitative","title":"Density"},
"stroke":{"field":"series","type":"nominal","scale":{"domain":["Data","Normal Distribution"],"range":["#d3d3d3","#000000"]},
"legend":{"title":null,"orient":"none","legendX":169.75,"legendY":16.7,"symbolType":"M-2,0L2,0","symbolSize":380,"symbolStrokeWidth":3,"labelFont":"Liberation Sans","labelFontSize":19.5,"labelFontWeight":"bold","labelColor":"#000","labelOffset":15.75,"labelLimit":400,"rowPadding":4,"padding":0}}}},
{"data":{"values":[{}]},"mark":{"type":"rule","color":"#222","strokeWidth":1.2},"encoding":{"x":{"datum":10.02},"y":{"datum":0},"y2":{"datum":0.15}}},
{"data":{"values":[{}]},"mark":{"type":"rule","color":"#222","strokeWidth":1.2},"encoding":{"x":{"datum":15},"x2":{"datum":35},"y":{"datum":-0.00717}}}
]},
{"width":393,"height":512,
"layer":[
{"data":{"name":"sparse"},"mark":{"type":"circle","size":58,"color":"#474747","opacity":0.3,"clip":true},
"encoding":{
"x":{"field":"age","type":"quantitative","scale":{"domain":[-0.88,22.17],"nice":false,"zero":false},"axis":{"values":[0,5,10,15,20],"title":"age","labelBaseline":"alphabetic","labelPadding":34,"titleX":199.7,"titleY":88,"titleBaseline":"alphabetic"}},
"y":{"field":"bmi","type":"quantitative","scale":{"domain":[10.22,36.53],"nice":false,"zero":false},"axis":{"values":[15,20,25,30,35],"domain":false,"title":"BMI","labelAlign":"right","labelBaseline":"middle","labelPadding":14,"titleAngle":270,"titleX":-71,"titleBaseline":"alphabetic"}}}},
{"data":{"name":"core"},"mark":{"type":"circle","size":90,"color":"#474747","opacity":0.85,"clip":true},
"encoding":{"x":{"field":"age","type":"quantitative","title":"age"},"y":{"field":"bmi","type":"quantitative","title":"BMI"}}},
{"data":{"values":[{}]},"mark":{"type":"rule","color":"#222","strokeWidth":1.2},"encoding":{"x":{"datum":-0.88},"y":{"datum":10.22},"y2":{"datum":36.38}}},
{"data":{"values":[{}]},"mark":{"type":"rule","color":"#222","strokeWidth":1.2},"encoding":{"y":{"datum":36.38}}}
]}
]
}
